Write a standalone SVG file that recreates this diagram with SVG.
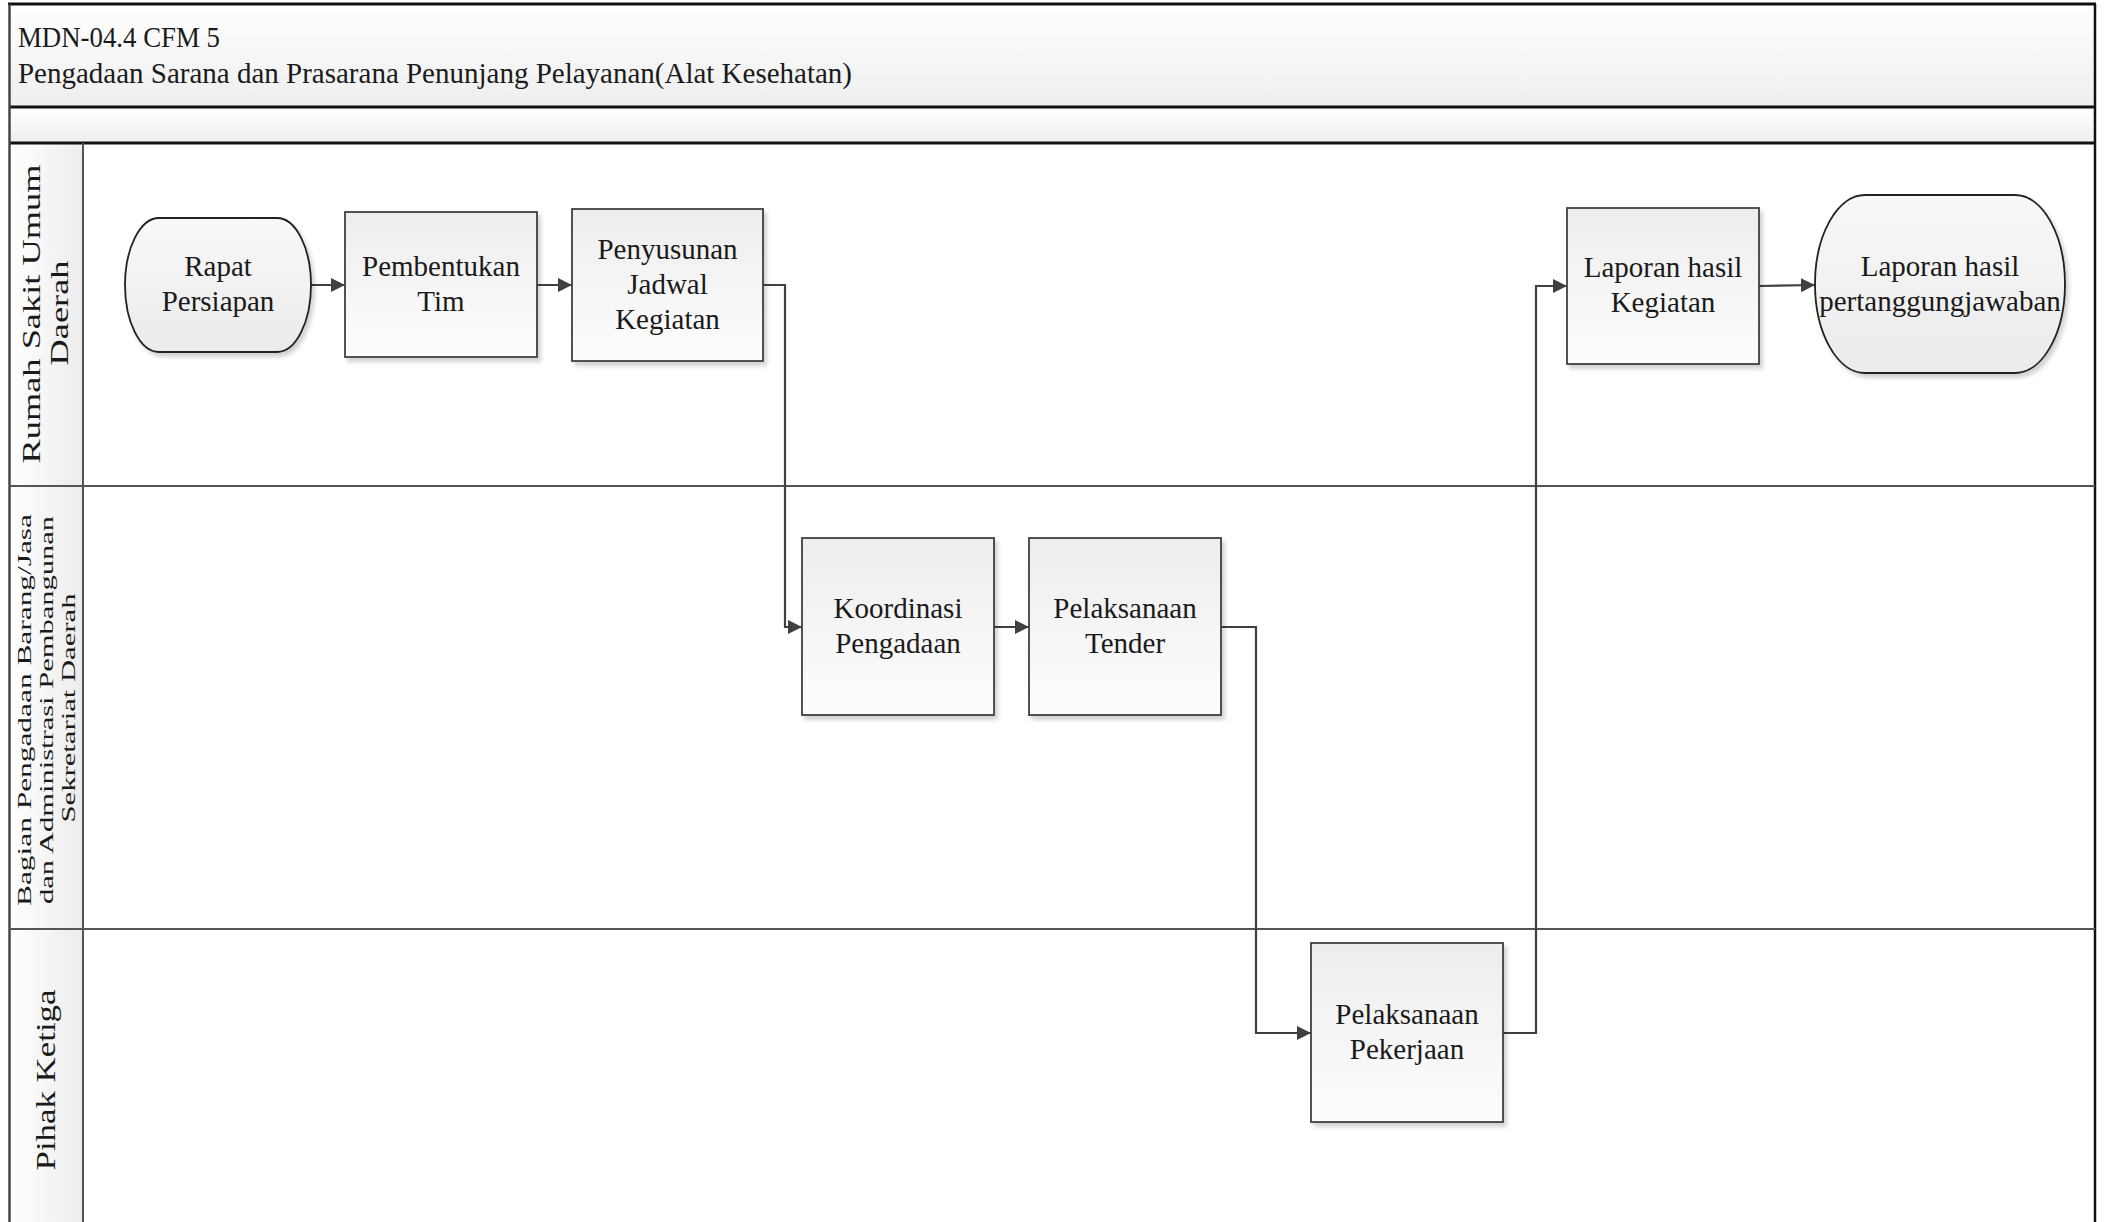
<svg xmlns="http://www.w3.org/2000/svg" width="2104" height="1222" viewBox="0 0 2104 1222">
  <style>
    .node-text { font-family: "Liberation Serif", "DejaVu Serif", serif; font-size: 29px; fill: #1a1a1a; text-anchor: middle; }
    .title-text { font-family: "Liberation Serif", "DejaVu Serif", serif; font-size: 29px; fill: #1a1a1a; }
    .lane-text { font-family: "Liberation Serif", "DejaVu Serif", serif; fill: #1a1a1a; text-anchor: middle; }
    .box { fill: url(#boxGrad); stroke: #404040; stroke-width: 1.8; filter: url(#shadow); }
    .term { fill: url(#termGrad); stroke: #202020; stroke-width: 1.8; filter: url(#shadow); }
    .conn { fill: none; stroke: #404040; stroke-width: 2.2; marker-end: url(#arrow); }
    .lane-line { stroke: #555555; stroke-width: 2; }
    .frame-line { stroke: #111111; stroke-width: 3; }
  </style>
  <defs>
    <linearGradient id="boxGrad" x1="0" y1="0" x2="0" y2="1">
      <stop offset="0" stop-color="#ededed"/>
      <stop offset="1" stop-color="#fdfdfd"/>
    </linearGradient>
    <linearGradient id="termGrad" x1="0" y1="0" x2="0" y2="1">
      <stop offset="0" stop-color="#f8f8f8"/>
      <stop offset="1" stop-color="#ebebeb"/>
    </linearGradient>
    <linearGradient id="bandGrad" x1="0" y1="0" x2="0" y2="1">
      <stop offset="0" stop-color="#ffffff"/>
      <stop offset="1" stop-color="#eeeeee"/>
    </linearGradient>
    <linearGradient id="laneHeadGrad" x1="0" y1="0" x2="1" y2="0">
      <stop offset="0" stop-color="#ffffff"/>
      <stop offset="1" stop-color="#ececec"/>
    </linearGradient>
    <filter id="shadow" x="-10%" y="-10%" width="125%" height="125%">
      <feGaussianBlur in="SourceAlpha" stdDeviation="2"/>
      <feOffset dx="3" dy="4" result="b"/>
      <feComponentTransfer><feFuncA type="linear" slope="0.18"/></feComponentTransfer>
      <feMerge><feMergeNode/><feMergeNode in="SourceGraphic"/></feMerge>
    </filter>
    <marker id="arrow" markerUnits="userSpaceOnUse" markerWidth="14" markerHeight="14" viewBox="0 0 12 12" refX="12" refY="6" orient="auto">
      <path d="M0,0 L12,6 L0,12 z" fill="#404040"/>
    </marker>
  </defs>

  <rect x="0" y="0" width="2104" height="1222" fill="#ffffff"/>

  <g id="frame">
    <rect x="9" y="4" width="2086" height="103" fill="url(#bandGrad)"/>
    <rect x="9" y="107" width="2086" height="36" fill="url(#bandGrad)"/>
    <rect x="9" y="143" width="74" height="1079" fill="url(#laneHeadGrad)"/>
    <line class="frame-line" x1="8" y1="4" x2="2096" y2="4"/>
    <line class="frame-line" x1="9" y1="107" x2="2095" y2="107"/>
    <line class="frame-line" x1="9" y1="143" x2="2095" y2="143"/>
    <line x1="9.5" y1="4" x2="9.5" y2="1222" stroke="#444444" stroke-width="2.5"/>
    <line x1="2095" y1="4" x2="2095" y2="1222" stroke="#111111" stroke-width="2.5"/>
    <line class="lane-line" x1="83" y1="143" x2="83" y2="1222"/>
    <line class="lane-line" x1="9" y1="486" x2="2095" y2="486"/>
    <line class="lane-line" x1="9" y1="929" x2="2095" y2="929"/>
    <text class="title-text" x="18" y="47" textLength="202" lengthAdjust="spacingAndGlyphs">MDN-04.4 CFM 5</text>
    <text class="title-text" x="18" y="83" textLength="834" lengthAdjust="spacingAndGlyphs">Pengadaan Sarana dan Prasarana Penunjang Pelayanan(Alat Kesehatan)</text>
  </g>

  <g id="lane-rsud">
    <text class="lane-text" font-size="26" transform="translate(40,314) rotate(-90)" textLength="299" lengthAdjust="spacingAndGlyphs">Rumah Sakit Umum</text>
    <text class="lane-text" font-size="26" transform="translate(68,313) rotate(-90)" textLength="105" lengthAdjust="spacingAndGlyphs">Daerah</text>
  </g>
  <g id="lane-bagian">
    <text class="lane-text" font-size="19" transform="translate(31,710) rotate(-90)" textLength="392" lengthAdjust="spacingAndGlyphs">Bagian Pengadaan Barang/Jasa</text>
    <text class="lane-text" font-size="19" transform="translate(53,710) rotate(-90)" textLength="388" lengthAdjust="spacingAndGlyphs">dan Administrasi Pembangunan</text>
    <text class="lane-text" font-size="19" transform="translate(75,708) rotate(-90)" textLength="229" lengthAdjust="spacingAndGlyphs">Sekretariat Daerah</text>
  </g>
  <g id="lane-pihak">
    <text class="lane-text" font-size="27" transform="translate(55,1080) rotate(-90)" textLength="181" lengthAdjust="spacingAndGlyphs">Pihak Ketiga</text>
  </g>

  <g id="connectors">
    <path class="conn" d="M311,285 L345,285"/>
    <path class="conn" d="M537,285 L572,285"/>
    <path class="conn" d="M763,285 H785 V627 H802"/>
    <path class="conn" d="M994,627 H1029"/>
    <path class="conn" d="M1221,627 H1256 V1033 H1311"/>
    <path class="conn" d="M1503,1033 H1536 V286 H1567"/>
    <path class="conn" d="M1759,286 L1815,285"/>
  </g>

  <g id="node-rapat">
    <rect class="term" x="125" y="218" width="186" height="134" rx="34" ry="67"/>
    <text class="node-text" x="218" y="276">Rapat</text>
    <text class="node-text" x="218" y="311">Persiapan</text>
  </g>
  <g id="node-pembentukan">
    <rect class="box" x="345" y="212" width="192" height="145"/>
    <text class="node-text" x="441" y="276">Pembentukan</text>
    <text class="node-text" x="441" y="311">Tim</text>
  </g>
  <g id="node-penyusunan">
    <rect class="box" x="572" y="209" width="191" height="152"/>
    <text class="node-text" x="667.5" y="259">Penyusunan</text>
    <text class="node-text" x="667.5" y="294">Jadwal</text>
    <text class="node-text" x="667.5" y="329">Kegiatan</text>
  </g>
  <g id="node-koordinasi">
    <rect class="box" x="802" y="538" width="192" height="177"/>
    <text class="node-text" x="898" y="618">Koordinasi</text>
    <text class="node-text" x="898" y="653">Pengadaan</text>
  </g>
  <g id="node-tender">
    <rect class="box" x="1029" y="538" width="192" height="177"/>
    <text class="node-text" x="1125" y="618">Pelaksanaan</text>
    <text class="node-text" x="1125" y="653">Tender</text>
  </g>
  <g id="node-pekerjaan">
    <rect class="box" x="1311" y="943" width="192" height="179"/>
    <text class="node-text" x="1407" y="1024">Pelaksanaan</text>
    <text class="node-text" x="1407" y="1059">Pekerjaan</text>
  </g>
  <g id="node-laporan-kegiatan">
    <rect class="box" x="1567" y="208" width="192" height="156"/>
    <text class="node-text" x="1663" y="277">Laporan hasil</text>
    <text class="node-text" x="1663" y="312">Kegiatan</text>
  </g>
  <g id="node-laporan-pertanggungjawaban">
    <rect class="term" x="1815" y="195" width="250" height="178" rx="50" ry="89"/>
    <text class="node-text" x="1940" y="276">Laporan hasil</text>
    <text class="node-text" x="1940" y="311">pertanggungjawaban</text>
  </g>
</svg>
